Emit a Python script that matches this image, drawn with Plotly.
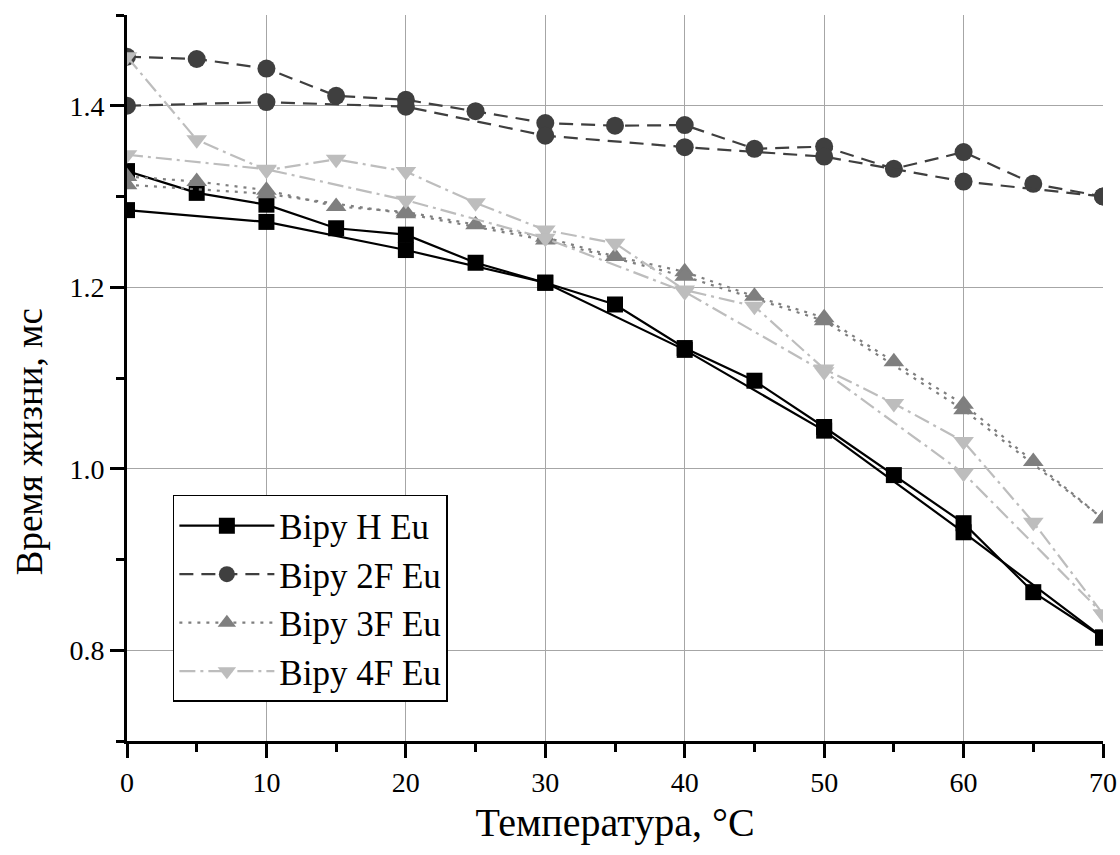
import plotly.graph_objects as go

# Temperatures
temp_step5 = [0, 5, 10, 15, 20, 25, 30, 35, 40, 45, 50, 55, 60, 65, 70]
temp_step10 = [0, 10, 20, 30, 40, 50, 60, 70]

# Bipy H Eu
h_eu_a = [1.328, 1.304, 1.291, 1.265, 1.258, 1.227, 1.205, 1.181, 1.133, 1.097, 1.046, 0.993, 0.940, 0.864, 0.814]
h_eu_b = [1.285, 1.272, 1.241, 1.205, 1.131, 1.042, 0.930, 0.814]

# Bipy 2F Eu
f2_eu_a = [1.454, 1.4515, 1.441, 1.411, 1.4066, 1.394, 1.381, 1.378, 1.3787, 1.3526, 1.355, 1.3305, 1.349, 1.314, 1.300]
f2_eu_b = [1.400, 1.404, 1.399, 1.367, 1.3544, 1.344, 1.3165, 1.300]

# Bipy 3F Eu
f3_eu_a = [1.322, 1.3165, 1.307, 1.289, 1.283, 1.269, 1.255, 1.234, 1.217, 1.190, 1.1665, 1.118, 1.071, 1.008, 0.945]
f3_eu_b = [1.313, 1.303, 1.281, 1.252, 1.212, 1.163, 1.065, 0.945]

# Bipy 4F Eu
f4_eu_a = [1.454, 1.3625, 1.329, 1.341, 1.3275, 1.293, 1.263, 1.2485, 1.197, 1.179, 1.110, 1.072, 1.030, 0.941, 0.840]
f4_eu_b = [1.346, 1.330, 1.296, 1.254, 1.195, 1.107, 0.995, 0.840]

series_names = ["Bipy H Eu", "Bipy 2F Eu", "Bipy 3F Eu", "Bipy 4F Eu"]
x_title = "Температура, °C"
y_title = "Время жизни, мс"

FONT = "Liberation Serif"

styles = [
    dict(color="#000000", dash="solid", symbol="square", size=16),
    dict(color="#3f3f3f", dash="14px,8px", symbol="circle", size=18),
    dict(color="#7f7f7f", dash="3px,6px", symbol="triangle-up", size=18),
    dict(color="#bdbdbd", dash="16px,5px,3px,5px", symbol="triangle-down", size=18),
]

data_pairs = [
    (h_eu_a, h_eu_b),
    (f2_eu_a, f2_eu_b),
    (f3_eu_a, f3_eu_b),
    (f4_eu_a, f4_eu_b),
]

fig = go.Figure()
for name, (ya, yb), st in zip(series_names, data_pairs, styles):
    for xs, ys, show in ((temp_step5, ya, True), (temp_step10, yb, False)):
        fig.add_trace(go.Scatter(
            x=xs, y=ys, mode="lines+markers", name=name,
            legendgroup=name, showlegend=show,
            line=dict(color=st["color"], width=2.2, dash=st["dash"]),
            marker=dict(color=st["color"], symbol=st["symbol"], size=st["size"],
                        line=dict(width=0)),
            cliponaxis=True,
        ))

# y-axis title placed as rotated annotation (sits below the axis centre in the original)
fig.add_annotation(
    x=-0.099, y=0.412, xref="paper", yref="paper",
    text=y_title, textangle=-90, showarrow=False,
    xanchor="center", yanchor="middle",
    font=dict(family=FONT, size=37, color="black"),
)

fig.update_layout(
    width=1120, height=855,
    margin=dict(l=127, r=17, t=15, b=114, autoexpand=False),
    paper_bgcolor="white", plot_bgcolor="white",
    font=dict(family=FONT, color="black"),
    showlegend=True,
    legend=dict(
        x=0.047, y=0.339, xanchor="left", yanchor="top",
        bordercolor="black", borderwidth=1.5, bgcolor="white",
        font=dict(family=FONT, size=35, color="black"),
        itemwidth=95, tracegroupgap=0,
    ),
    xaxis=dict(
        range=[0, 70], tickmode="linear", tick0=0, dtick=10,
        automargin=False,
        showline=True, linecolor="black", linewidth=3,
        ticks="outside", ticklen=14, tickwidth=3, tickcolor="black",
        showgrid=True, gridcolor="#a6a6a6", gridwidth=1.3,
        zeroline=False,
        tickfont=dict(family=FONT, size=28, color="black"),
        minor=dict(dtick=5, tick0=0, ticks="outside", ticklen=8, tickwidth=3,
                   tickcolor="black", showgrid=False),
        title=dict(text=x_title, font=dict(family=FONT, size=40, color="black"),
                   standoff=12),
    ),
    yaxis=dict(
        range=[0.7, 1.5], tickmode="linear", tick0=0.8, dtick=0.2,
        tickformat=".1f", automargin=False,
        showline=True, linecolor="black", linewidth=3,
        ticks="outside", ticklen=14, tickwidth=3, tickcolor="black",
        showgrid=True, gridcolor="#a6a6a6", gridwidth=1.3,
        zeroline=False,
        tickfont=dict(family=FONT, size=28, color="black"),
        minor=dict(dtick=0.1, tick0=0.7, ticks="outside", ticklen=8, tickwidth=3,
                   tickcolor="black", showgrid=False),
    ),
)

fig.write_html("out.html")
